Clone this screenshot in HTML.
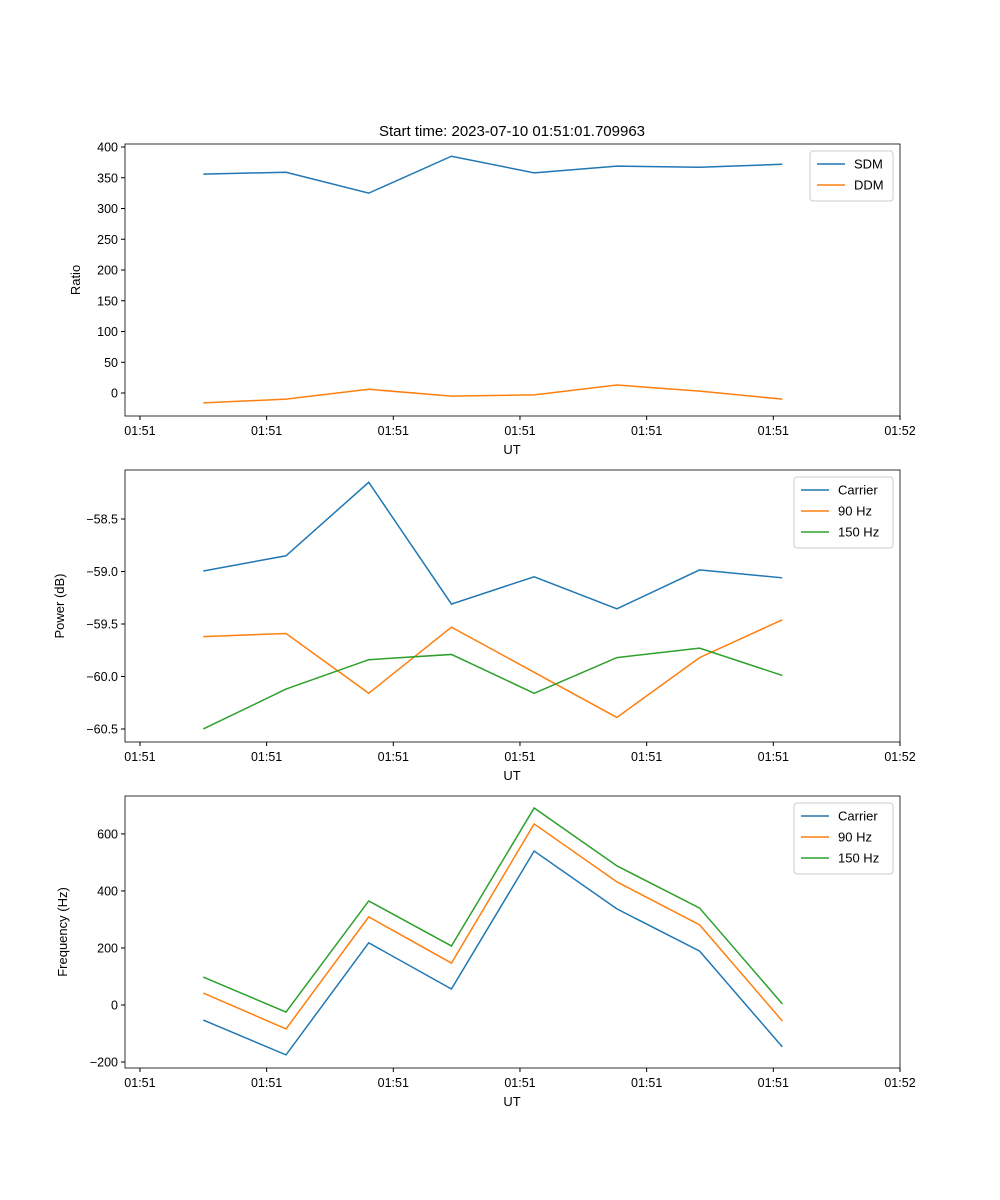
<!DOCTYPE html>
<html><head><meta charset="utf-8"><style>body{margin:0;background:#fff}svg{display:block;font-family:"Liberation Sans","DejaVu Sans",sans-serif}</style></head>
<body>
<svg id="fig" width="1000" height="1200" viewBox="0 0 1000 1200">
<text x="512" y="136" font-size="15" text-anchor="middle">Start time: 2023-07-10 01:51:01.709963</text>
</svg>
<script>
const xTicks = [0,1,2,3,4,5,6];
const xTickLabels = ["01:51","01:51","01:51","01:51","01:51","01:51","01:52"];
const times = [0.5,1.153,1.806,2.459,3.112,3.765,4.418,5.071];
const sdm = [356,359,325,385,358,369,367,372];
const ddm = [-16,-10,6,-5,-3,13,3,-10];
const pwrCarrier = [-58.995,-58.85,-58.15,-59.31,-59.05,-59.355,-58.985,-59.06];
const pwr90 = [-59.62,-59.59,-60.16,-59.53,-59.96,-60.39,-59.82,-59.46];
const pwr150 = [-60.5,-60.12,-59.84,-59.79,-60.16,-59.82,-59.73,-59.99];
const frqCarrier = [-53,-175,218,56,540,337,189,-147];
const frq90 = [42,-84,309,147,635,432,281,-56];
const frq150 = [98,-25,365,207,691,488,340,4];
const yTicks1 = [0,50,100,150,200,250,300,350,400];
const yTicks2 = [-60.5,-60.0,-59.5,-59.0,-58.5];
const yTicks3 = [-200,0,200,400,600];

const NS="http://www.w3.org/2000/svg";
const svg=document.getElementById('fig');
function el(t,a,p){const e=document.createElementNS(NS,t);for(const k in a)e.setAttribute(k,a[k]);(p||svg).appendChild(e);return e;}
const L=125,R=900,xmin=-0.118,xmax=6.0;
const sx=v=>L+(v-xmin)/(xmax-xmin)*(R-L);
const C=['#1f77b4','#ff7f0e','#2ca02c'];
function panel(name,top,bot,ymin,ymax,yt,fmt,ylabel,series,names,legW){
  const g=el('g',{});
  
  
  const sy=v=>bot-(v-ymin)/(ymax-ymin)*(bot-top);
  series.forEach((s,i)=>{
    const p=el('polyline',{points:s.map((v,j)=>sx(times[j])+','+sy(v)).join(' '),fill:'none',stroke:C[i],'stroke-width':1.5},g);
    
    
  });
  el('rect',{x:L,y:top,width:R-L,height:bot-top,fill:'none',stroke:'#000','stroke-width':0.8},g);
  xTicks.forEach((t,i)=>{const x=sx(t);el('line',{x1:x,x2:x,y1:bot,y2:bot+4,stroke:'#000'},g);
    const tx=el('text',{x:x,y:bot+19,'font-size':12.5,'text-anchor':'middle'},g);tx.textContent=xTickLabels[i];
    
    });
  yt.forEach(t=>{const y=sy(t);el('line',{x1:L-4,x2:L,y1:y,y2:y,stroke:'#000'},g);
    const tx=el('text',{x:L-7,y:y+4.5,'font-size':12.5,'text-anchor':'end'},g);tx.textContent=fmt(t);
    
    });
  const xl=el('text',{x:512,y:bot+38,'font-size':13,'text-anchor':'middle'},g);xl.textContent='UT';
  
  
  const yl=el('text',{x:0,y:0,'font-size':13,'text-anchor':'middle',transform:`translate(${ylabel[1]},${(top+bot)/2}) rotate(-90)`},g);yl.textContent=ylabel[0];
  
  
  const lx=R-7-legW,ly=top+7,lh=names.length*21+8;
  const lg=el('g',{},g);
  
  
  el('rect',{x:lx,y:ly,width:legW,height:lh,rx:3,fill:'#fff',stroke:'#ccc'},lg);
  names.forEach((n,i)=>{const y=ly+13+i*21;
    el('line',{x1:lx+7,x2:lx+35,y1:y,y2:y,stroke:C[i],'stroke-width':1.5},lg);
    const t=el('text',{x:lx+44,y:y+4.5,'font-size':13},lg);t.textContent=n;
    
    });
}
panel('ratio-panel',144,416,-37.4,404.9,yTicks1,v=>String(v),['Ratio',80],[sdm,ddm],['SDM','DDM'],83);
panel('power-panel',470,742,-60.624,-58.033,yTicks2,v=>'\u2212'+Math.abs(v).toFixed(1),['Power (dB)',64],[pwrCarrier,pwr90,pwr150],['Carrier','90 Hz','150 Hz'],99);
panel('frequency-panel',796,1068,-221,733,yTicks3,v=>(v<0?'\u2212':'')+Math.abs(v),['Frequency (Hz)',67],[frqCarrier,frq90,frq150],['Carrier','90 Hz','150 Hz'],99);
</script>
</body></html>
